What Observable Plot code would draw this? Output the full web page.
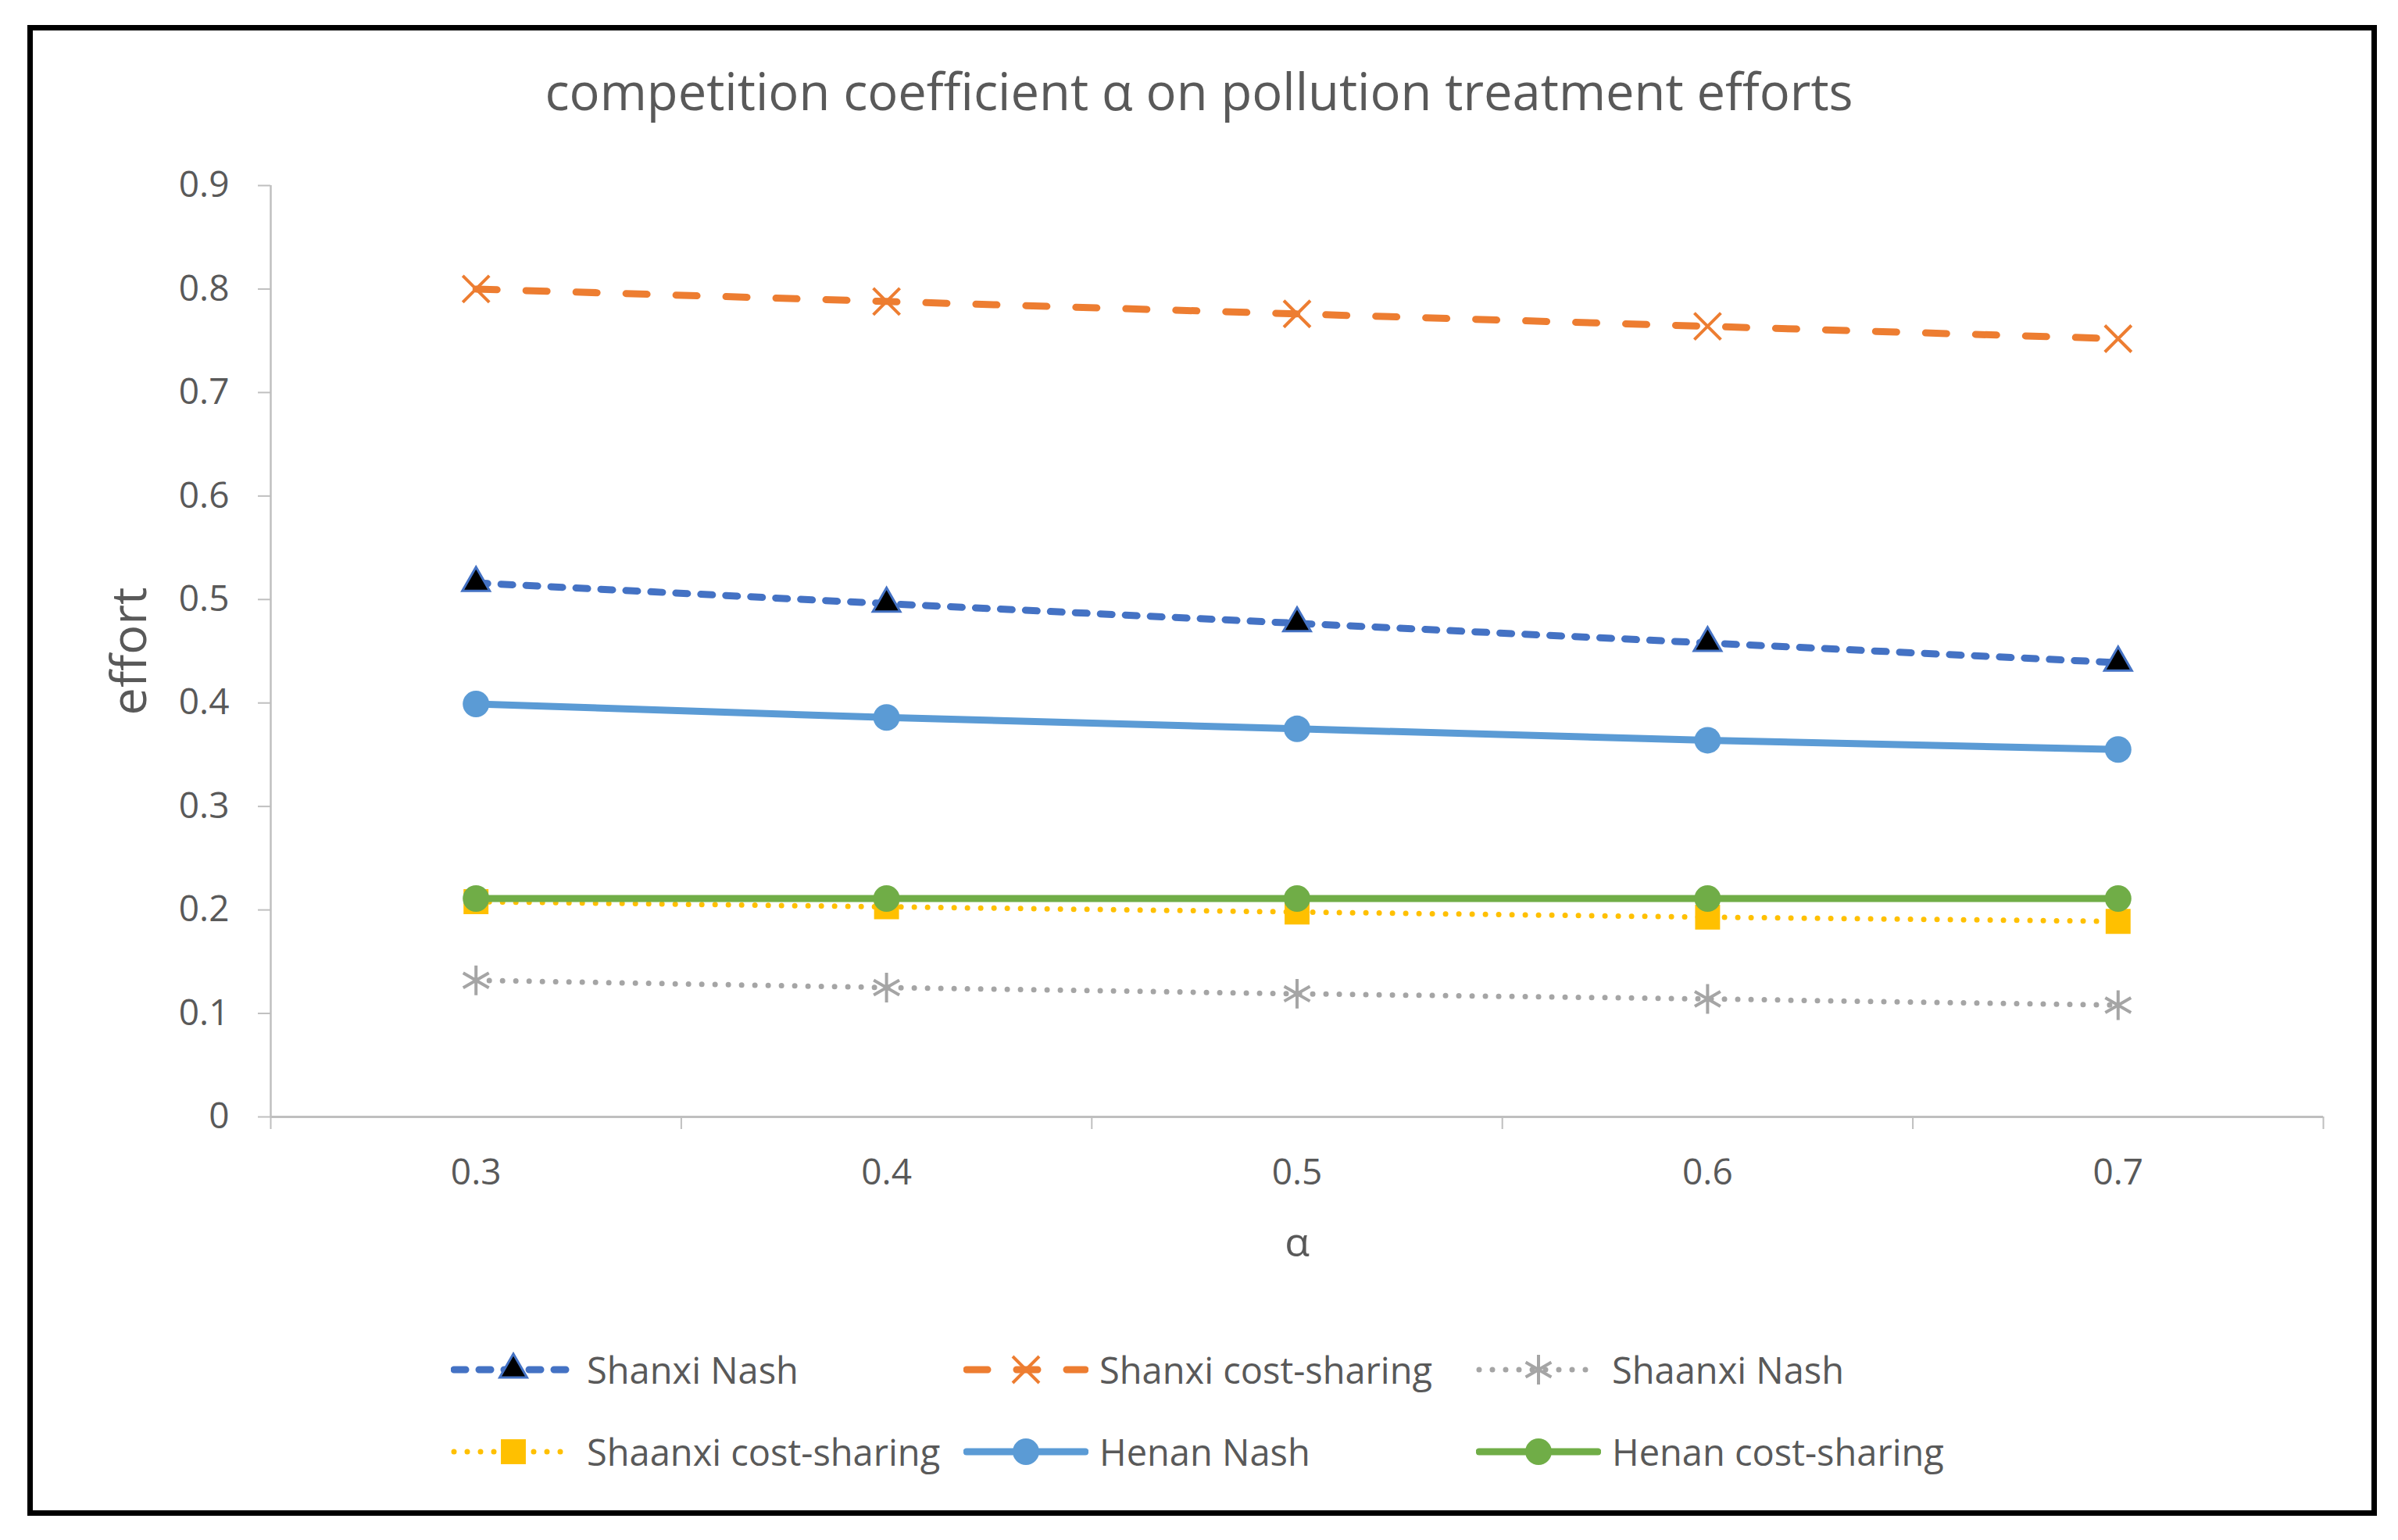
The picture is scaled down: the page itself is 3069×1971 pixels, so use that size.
<!DOCTYPE html>
<html>
<head>
<meta charset="utf-8">
<script src="https://cdn.jsdelivr.net/npm/d3@7"></script>
<script src="https://cdn.jsdelivr.net/npm/@observablehq/plot@0.6"></script>
<style>
html, body { margin: 0; padding: 0; background: #fff; }
body { width: 3069px; height: 1971px; position: relative; overflow: hidden; font-family: "Open Sans", sans-serif; }
#frame { position: absolute; left: 35px; top: 32px; width: 2993px; height: 1894px; border: 7px solid #000; z-index: 3; pointer-events: none; }
#title { position: absolute; left: 0; width: 3069px; top: 78px; text-align: center; font-size: 65px; line-height: 76px; color: #595959; z-index: 2; }
#chart { position: absolute; left: 0; top: 0; z-index: 1; }
.item { position: absolute; display: flex; align-items: center; height: 60px; color: #595959; font-size: 47px; z-index: 2; }
.item svg { display: block; margin-right: 14px; }
</style>
</head>
<body>
<div id="frame"></div>
<div id="title"></div>
<div id="chart"></div>
<div id="legend"></div>
<script>
// ---- data ----
const alphas = [0.3, 0.4, 0.5, 0.6, 0.7];
const shanxiNash   = [0.516, 0.496, 0.477, 0.458, 0.439];
const shanxiCost   = [0.800, 0.788, 0.776, 0.764, 0.752];
const shaanxiNash  = [0.132, 0.125, 0.119, 0.114, 0.108];
const shaanxiCost  = [0.208, 0.203, 0.198, 0.193, 0.189];
const henanNash    = [0.399, 0.386, 0.375, 0.364, 0.355];
const henanCost    = [0.211, 0.211, 0.211, 0.211, 0.211];
const seriesNames  = ["Shanxi Nash", "Shanxi cost-sharing", "Shaanxi Nash", "Shaanxi cost-sharing", "Henan Nash", "Henan cost-sharing"];
const yTicks = [0, 0.1, 0.2, 0.3, 0.4, 0.5, 0.6, 0.7, 0.8, 0.9];
const titleText = "competition coefficient α on pollution treatment efforts";
const xLabel = "α";
const yLabel = "effort";

// ---- styles ----
const valuesList = [shanxiNash, shanxiCost, shaanxiNash, shaanxiCost, henanNash, henanCost];
const styles = [
  {color: "#4472C4", width: 9, dash: "15,17", symbol: "triangle", r: 13, fill: "#000", stroke: "#4472C4", sw: 3},
  {color: "#ED7D31", width: 9, dash: "27,37", symbol: "times", r: 15.5, fill: "none", stroke: "#ED7D31", sw: 4},
  {color: "#A5A5A5", width: 7, dash: "0,17", symbol: "asterisk", r: 18, fill: "none", stroke: "#A5A5A5", sw: 4},
  {color: "#FFC000", width: 7, dash: "0,17", symbol: "square", r: 18, fill: "#FFC000", stroke: "none", sw: 0},
  {color: "#5B9BD5", width: 9, dash: null, symbol: "circle", r: 17, fill: "#5B9BD5", stroke: "none", sw: 0},
  {color: "#70AD47", width: 9, dash: null, symbol: "circle", r: 17, fill: "#70AD47", stroke: "none", sw: 0}
];

document.getElementById("title").textContent = titleText;

const xMin = alphas[0] - 0.05, xMax = alphas[alphas.length - 1] + 0.05;
const bounds = [xMin, ...alphas.map(a => a + 0.05)];
const axisColor = "#BFBFBF", textColor = "#595959";

const marks = [
  Plot.ruleY([0], {stroke: axisColor, strokeWidth: 3}),
  Plot.ruleX([xMin], {y1: 0, y2: yTicks[yTicks.length - 1], stroke: axisColor, strokeWidth: 2.5}),
  Plot.axisY(yTicks, {tickSize: 16, tickPadding: 37, stroke: axisColor, strokeWidth: 2, fill: textColor, fontSize: 46,
    tickFormat: d => String(+d.toFixed(1)), label: null}),
  Plot.axisX(bounds, {tickSize: 16, stroke: axisColor, strokeWidth: 2, tickFormat: () => "", label: null}),
  Plot.axisX(alphas, {tickSize: 0, tickPadding: 54, fill: textColor, fontSize: 46, tickFormat: d => d.toFixed(1), label: null}),
  Plot.text([yLabel], {frameAnchor: "left", textAnchor: "middle", rotate: -90, dx: -180, fontSize: 63, fill: textColor}),
  Plot.text([xLabel], {frameAnchor: "bottom", textAnchor: "middle", dy: 178, fontSize: 52, fill: textColor})
];
valuesList.forEach((vals, k) => {
  const s = styles[k];
  marks.push(Plot.line(alphas, {x: d => d, y: (d, i) => vals[i], stroke: s.color, strokeWidth: s.width,
    strokeDasharray: s.dash, strokeLinecap: "round", strokeLinejoin: "round"}));
});
valuesList.forEach((vals, k) => {
  const s = styles[k];
  marks.push(Plot.dot(alphas, {x: d => d, y: (d, i) => vals[i], symbol: s.symbol, r: s.r,
    fill: s.fill, stroke: s.stroke, strokeWidth: s.sw}));
});

const chart = Plot.plot({
  width: 3069,
  height: 1660,
  marginLeft: 346,
  marginRight: 96,
  marginTop: 237,
  marginBottom: 231,
  style: {background: "transparent", fontFamily: "Open Sans", color: textColor},
  x: {domain: [xMin, xMax], axis: null},
  y: {domain: [0, yTicks[yTicks.length - 1]], axis: null},
  marks
});
document.getElementById("chart").appendChild(chart);

// ---- legend ----
const legendPos = [[577, 1753], [1233, 1753], [1889, 1753], [577, 1858], [1233, 1858], [1889, 1858]];
const symMap = {triangle: d3.symbolTriangle, times: d3.symbolTimes, asterisk: d3.symbolAsterisk, square: d3.symbolSquare, circle: d3.symbolCircle};
const legend = d3.select("#legend");
seriesNames.forEach((name, k) => {
  const s = styles[k];
  const item = legend.append("div").attr("class", "item")
    .style("left", legendPos[k][0] + "px").style("top", (legendPos[k][1] - 30) + "px");
  const svg = item.append("svg").attr("width", 160).attr("height", 60);
  svg.append("line").attr("x1", 4).attr("x2", 156).attr("y1", 30).attr("y2", 30)
    .attr("stroke", s.color).attr("stroke-width", s.width).attr("stroke-linecap", "round")
    .attr("stroke-dasharray", s.dash);
  svg.append("path").attr("transform", "translate(80,30)")
    .attr("d", d3.symbol(symMap[s.symbol], Math.PI * s.r * s.r)())
    .attr("fill", s.fill).attr("stroke", s.stroke).attr("stroke-width", s.sw);
  item.append("span").text(name);
});
</script>
</body>
</html>
